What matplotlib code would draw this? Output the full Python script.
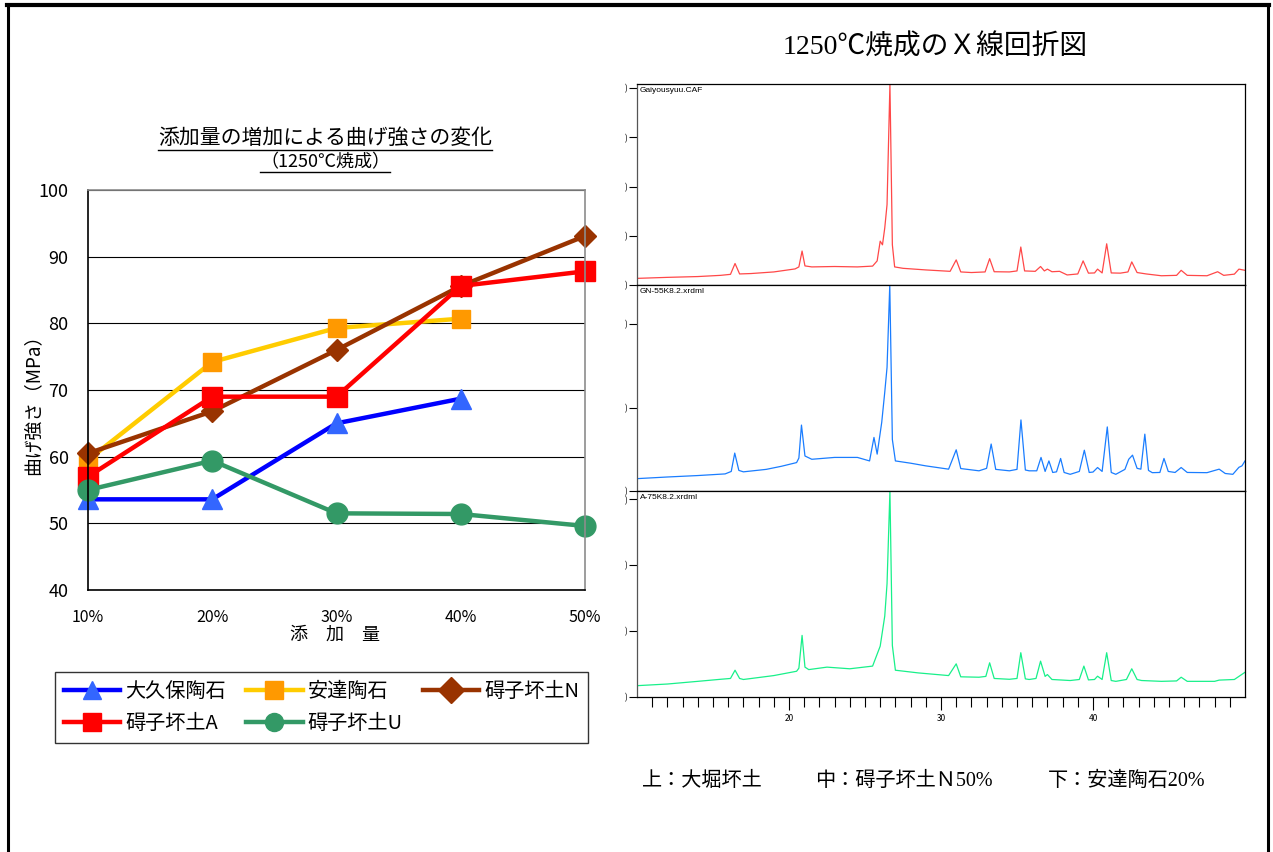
import matplotlib
matplotlib.use('Agg')
import matplotlib.pyplot as plt
from matplotlib.lines import Line2D

plt.rcParams['font.family'] = ['Noto Sans CJK JP', 'DejaVu Sans']

# ---------------- data: flexural strength ----------------
add_labels = ['10%', '20%', '30%', '40%', '50%']
add_pos = [10, 20, 30, 40, 50]
series_names = ['大久保陶石', '安達陶石', '碍子坏土N', '碍子坏土A', '碍子坏土U']
okubo = [53.6, 53.6, 65.0, 68.7]
adachi = [59.5, 74.2, 79.3, 80.7]
gaishi_n = [60.5, 66.8, 76.0, 85.6, 93.1]
gaishi_a = [57.0, 69.0, 69.0, 85.6, 87.8]
gaishi_u = [55.0, 59.4, 51.5, 51.4, 49.6]
strength_ticks = [40, 50, 60, 70, 80, 90, 100]

# ---------------- data: XRD patterns (2theta, relative intensity %) ----------------
top_2t = [10.0, 12.0, 14.0, 15.5, 16.15, 16.45, 16.75, 17.5, 19.0, 20.4, 20.65, 20.86, 21.05, 21.5,
          23.0, 24.5, 25.5, 25.8, 26.0, 26.15, 26.3, 26.45, 26.64, 26.8, 26.95, 27.5, 29.0, 30.6,
          31.0, 31.3, 32.0, 32.9, 33.2, 33.5, 34.5, 35.0, 35.25, 35.5, 36.2, 36.55, 36.8, 37.0,
          37.3, 37.8, 38.3, 39.0, 39.35, 39.7, 40.1, 40.3, 40.6, 40.9, 41.2, 41.8, 42.3, 42.55,
          42.9, 43.5, 44.5, 45.5, 45.8, 46.2, 47.5, 48.2, 48.6, 49.3, 49.6, 50.0]
top_int = [3.3, 3.8, 4.2, 4.8, 5.3, 10.7, 5.5, 5.7, 6.5, 8.0, 9.0, 16.9, 9.5, 9.0,
           9.2, 9.0, 9.4, 12.0, 21.8, 20.0, 28.4, 40.0, 100.0, 20.0, 9.0, 8.3, 7.5, 6.8,
           12.5, 6.5, 6.2, 6.5, 13.1, 6.6, 6.5, 7.0, 18.9, 7.0, 6.8, 9.2, 7.0, 7.9,
           6.6, 6.8, 5.0, 5.5, 12.0, 5.9, 6.0, 7.9, 6.0, 20.5, 6.0, 5.9, 6.5, 11.5,
           6.2, 5.5, 4.6, 4.8, 7.3, 4.8, 4.6, 6.6, 4.8, 5.4, 7.9, 7.3]

mid_2t = [10.0, 12.0, 14.0, 15.8, 16.2, 16.43, 16.7, 17.0, 18.5, 19.5, 20.5, 20.65, 20.82, 21.05,
          21.5, 23.0, 24.5, 25.3, 25.59, 25.8, 26.1, 26.3, 26.45, 26.63, 26.8, 27.0, 28.0, 29.0,
          30.5, 31.0, 31.3, 32.5, 33.0, 33.3, 33.6, 34.5, 35.0, 35.26, 35.55, 35.8, 36.3, 36.58,
          36.85, 37.1, 37.35, 37.6, 37.87, 38.1, 38.5, 39.1, 39.43, 39.75, 40.0, 40.3, 40.6, 40.94,
          41.2, 41.5, 42.1, 42.35, 42.6, 42.9, 43.15, 43.41, 43.65, 43.9, 44.4, 44.67, 44.95, 45.4,
          45.8, 46.2, 47.5, 48.3, 48.7, 49.2, 49.6, 49.8, 50.0]
mid_int = [6.0, 6.8, 7.5, 8.3, 9.5, 18.4, 10.0, 9.3, 10.5, 12.0, 13.8, 16.0, 32.0, 17.0,
           15.4, 16.3, 16.3, 14.6, 26.0, 17.9, 33.3, 48.0, 60.0, 100.0, 25.0, 14.6, 13.5, 12.2,
           10.6, 20.0, 10.9, 9.8, 11.0, 22.8, 10.5, 9.8, 10.5, 34.5, 10.2, 9.8, 9.8, 16.3,
           9.5, 14.6, 9.0, 9.3, 15.8, 9.0, 8.1, 9.5, 19.8, 9.0, 9.2, 11.4, 9.5, 31.1,
           9.0, 8.1, 10.5, 15.4, 17.4, 11.0, 10.6, 27.6, 10.0, 8.9, 9.0, 15.8, 9.5, 9.0,
           11.4, 9.0, 8.9, 10.6, 8.5, 8.1, 11.5, 12.2, 14.6]

bot_2t = [10.0, 12.0, 14.0, 15.5, 16.15, 16.45, 16.75, 17.0, 19.0, 20.5, 20.65, 20.86, 21.05, 21.3,
          22.5, 24.0, 25.5, 26.0, 26.3, 26.45, 26.64, 26.8, 27.0, 28.5, 30.5, 31.0, 31.3, 32.5,
          32.95, 33.2, 33.5, 34.5, 35.0, 35.25, 35.55, 35.8, 36.25, 36.55, 36.85, 37.0, 37.3, 38.5,
          39.1, 39.4, 39.7, 40.1, 40.3, 40.6, 40.9, 41.2, 41.5, 42.2, 42.55, 42.9, 43.2, 44.5,
          45.5, 45.8, 46.2, 48.0, 48.3, 49.3, 50.0]
bot_int = [5.5, 6.3, 7.6, 8.6, 9.0, 13.0, 9.0, 8.5, 10.4, 12.5, 14.0, 29.9, 14.5, 13.3,
           14.5, 13.7, 15.0, 24.7, 39.3, 55.0, 100.0, 25.0, 13.0, 11.7, 10.4, 16.1, 9.8, 9.6,
           10.0, 16.6, 9.0, 8.6, 9.0, 21.5, 8.8, 8.5, 9.0, 17.4, 10.0, 10.9, 8.5, 8.0,
           8.5, 15.0, 8.3, 8.5, 10.1, 8.5, 21.5, 8.0, 7.6, 8.5, 13.7, 8.5, 8.0, 7.6,
           7.8, 9.6, 7.6, 7.6, 8.2, 8.5, 12.0]

xrd_names = ['Gaiyousyuu.CAF', 'GN-55K8.2.xrdml', 'A-75K8.2.xrdml']
xrd_2t_ticks = [20, 30, 40]

# ---------------- figure ----------------
W, H = 1273, 852
fig = plt.figure(figsize=(W / 100, H / 100), dpi=100)


def fx(px):
    return px / W


def fy(py):
    return 1 - py / H


# page border
fig.add_artist(Line2D([fx(7), fx(1269)], [fy(5), fy(5)], color='black', lw=3))
fig.add_artist(Line2D([fx(8), fx(8)], [fy(5), fy(852)], color='black', lw=2.2))
fig.add_artist(Line2D([fx(1268), fx(1268)], [fy(5), fy(852)], color='black', lw=2.2))

# ---------------- left chart ----------------
ax = fig.add_axes([fx(88), fy(590), fx(585) - fx(88), fy(190) - fy(590)])
styles = [
    dict(color='#0000ff', marker='^', mfc='#3366ff', mec='#3366ff', ms=15),
    dict(color='#ffcc00', marker='s', mfc='#ff9900', mec='#ff9900', ms=13),
    dict(color='#993300', marker='D', mfc='#993300', mec='#993300', ms=11),
    dict(color='#ff0000', marker='s', mfc='#ff0000', mec='#ff0000', ms=14),
    dict(color='#339966', marker='o', mfc='#339966', mec='#339966', ms=15),
]
data = [okubo, adachi, gaishi_n, gaishi_a, gaishi_u]
handles = []
for name, vals, st in zip(series_names, data, styles):
    h, = ax.plot(add_pos[:len(vals)], vals, lw=3.2, label=name, clip_on=False, **st)
    handles.append(h)

ax.set_xlim(10, 50)
ax.set_ylim(40, 100)
ax.set_yticks(strength_ticks)
ax.set_xticks(add_pos, add_labels)
ax.tick_params(axis='y', length=0, pad=14, labelsize=13)
ax.tick_params(axis='x', length=0, pad=14, labelsize=11.5)
ax.grid(axis='y', color='black', lw=0.8)
ax.set_axisbelow(True)
for s in ['left', 'bottom']:
    ax.spines[s].set_color('black')
    ax.spines[s].set_linewidth(1.2)
for s in ['top', 'right']:
    ax.spines[s].set_color('#8c8c8c')
    ax.spines[s].set_linewidth(1.2)

fig.text(fx(33), fy(400), '曲げ強さ（MPa）', rotation=90, ha='center', va='center', fontsize=13.5)
fig.text(fx(335), fy(635), '添　加　量', ha='center', va='center', fontsize=13)

t1 = fig.text(fx(325), fy(138), '添加量の増加による曲げ強さの変化', ha='center', va='center', fontsize=15)
t2 = fig.text(fx(325), fy(162), '（1250℃焼成）', ha='center', va='center', fontsize=13)

order = [0, 3, 1, 4, 2]
leg = fig.legend([handles[i] for i in order], [series_names[i] for i in order],
                 loc='upper left', bbox_to_anchor=(fx(55), fy(672)), ncol=3,
                 fontsize=14.5, frameon=True, fancybox=False, handlelength=2.8,
                 columnspacing=1.0, handletextpad=0.25, borderpad=0.45, labelspacing=0.55,
                 borderaxespad=0)
leg.get_frame().set_edgecolor('black')
leg.get_frame().set_linewidth(1.0)
for lh in leg.legend_handles:
    lh.set_markersize(13)

# ---------------- XRD panels ----------------
fig.text(fx(935), fy(48), '1250℃焼成のＸ線回折図', ha='center', va='center', fontsize=20,
         family=['Liberation Serif', 'Noto Sans CJK JP'])

panels = [(84, 285), (285, 491), (491, 697)]
xrd_data = [(top_2t, top_int, '#ff4848'), (mid_2t, mid_int, '#1a7dff'), (bot_2t, bot_int, '#18f08a')]
ytick_sets = [[0, 24.5, 49, 73.5, 98], [0, 40.5, 81], [0, 32, 64, 96]]
for i, ((ptop, pbot), (tt, ii, col), name) in enumerate(zip(panels, xrd_data, xrd_names)):
    a = fig.add_axes([fx(637), fy(pbot), fx(1245) - fx(637), fy(ptop) - fy(pbot)])
    a.plot(tt, ii, color=col, lw=0.9)
    a.set_xlim(10, 50)
    a.set_ylim(0, 100)
    a.set_yticks(ytick_sets[i], [')'] * len(ytick_sets[i]))
    a.tick_params(axis='y', length=6, width=0.8, pad=1, labelsize=6)
    for s in a.spines.values():
        s.set_linewidth(0.9)
        s.set_color('black')
    a.spines['left'].set_color('#555555')
    a.text(0.005, 0.985, name, transform=a.transAxes, ha='left', va='top', fontsize=6,
           family='Liberation Sans')
    if i < 2:
        a.set_xticks([])
    else:
        a.set_xticks(xrd_2t_ticks, [str(v) for v in xrd_2t_ticks])
        a.set_xticks(range(11, 50), minor=True)
        a.tick_params(axis='x', which='major', length=9, width=0.8, pad=3, labelsize=6)
        a.tick_params(axis='x', which='minor', length=7, width=0.8)

cap_font = ['Liberation Serif', 'Noto Sans CJK JP']
fig.text(fx(642), fy(781), '上：大堀坏土', ha='left', va='center', fontsize=14.5, family=cap_font)
fig.text(fx(815), fy(781), '中：碍子坏土Ｎ50%', ha='left', va='center', fontsize=14.5, family=cap_font)
fig.text(fx(1048), fy(781), '下：安達陶石20%', ha='left', va='center', fontsize=14.5, family=cap_font)

# underline the left chart title
fig.canvas.draw()
r = fig.canvas.get_renderer()
for t in (t1, t2):
    bb = t.get_window_extent(r)
    yline = (bb.y0 - 1) / H
    fig.add_artist(Line2D([bb.x0 / W, bb.x1 / W], [yline, yline], color='black', lw=1.0))

fig.savefig('out.png', dpi=100)
